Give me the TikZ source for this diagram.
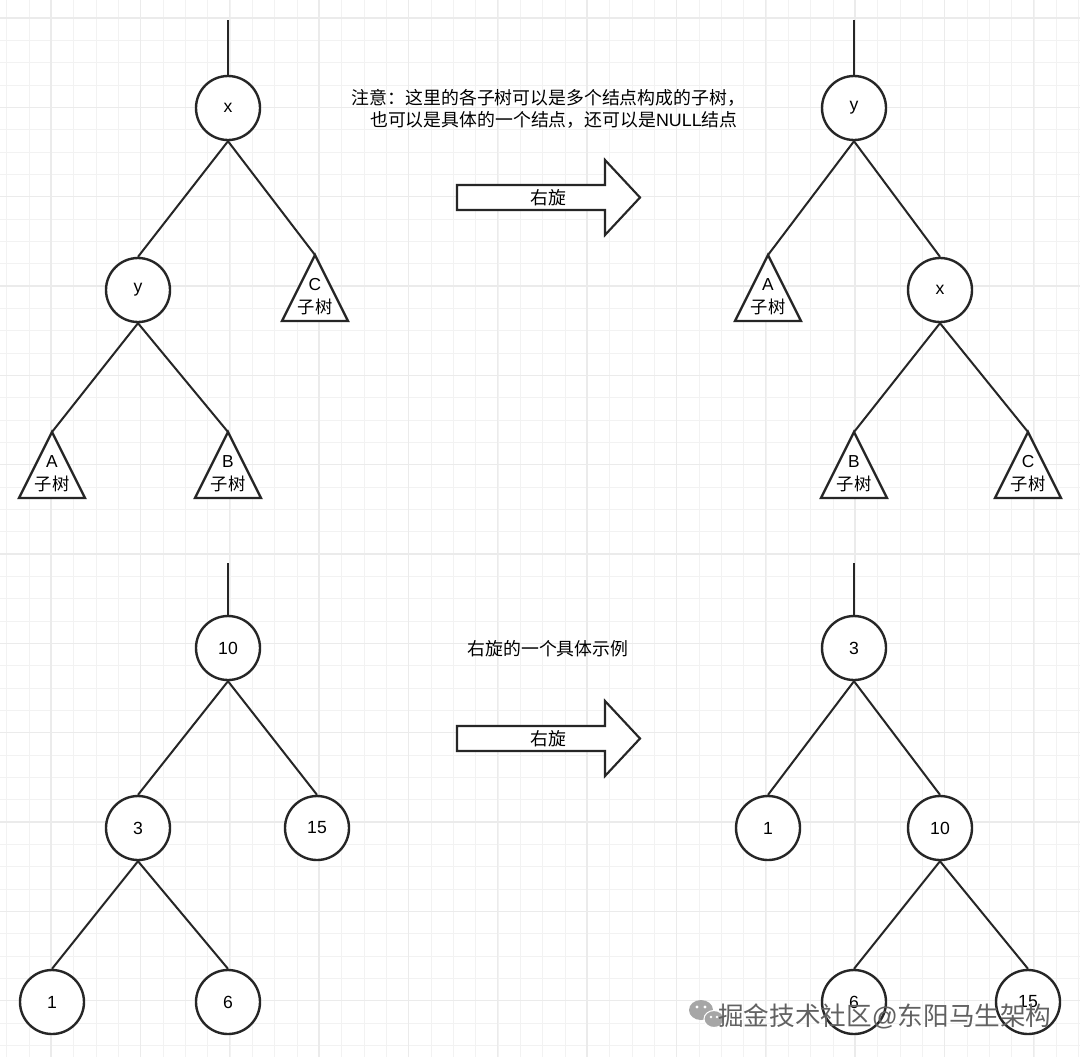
\documentclass[tikz,border=0pt]{standalone}
\usepackage{fontspec}
\setmainfont{Liberation Sans}
\newfontfamily\cjk{Noto Sans CJK SC}
\begin{document}
\begin{tikzpicture}[x=0.75pt,y=-0.75pt,
  gridminor/.style={draw=black!5,line width=0.7pt},
  gridmajor/.style={draw=black!8,line width=0.9pt},
  nd/.style={circle,draw=black!85,fill=white,line width=1.8pt,minimum size=48pt,inner sep=0pt,font=\fontsize{13.2}{15}\selectfont},
  edge/.style={draw=black!85,line width=1.5pt},
  tri/.style={draw=black!85,fill=white,line width=1.8pt,line join=miter},
  lbl/.style={inner sep=0pt,font=\fontsize{13}{15}\selectfont},
  txt/.style={inner sep=0pt,align=center,font=\fontsize{13.4}{17}\selectfont\cjk},
  bigarrow/.style={draw=black!85,fill=white,line width=1.6pt,line join=miter},
  pics/subtree/.style={code={
    \draw[tri] (-33,0) -- (0,-66) coordinate (-apex) -- (33,0) -- cycle;
    \node[lbl] at (0,-36) {#1};
    \node[lbl] at (0,-14) {\cjk 子树};
  }}
]
\useasboundingbox (0,0) rectangle (1080,1057);
\fill[white] (0,0) rectangle (1080,1057);
% grid
\foreach \i in {0,...,48} {
  \draw[gridminor] ({6.7+22.333*\i},0) -- ({6.7+22.333*\i},1057);
  \draw[gridminor] (0,{-4.3+22.333*\i}) -- (1080,{-4.3+22.333*\i});
}
\foreach \k in {0,...,11} {
  \draw[gridmajor] ({51+89.333*\k},0) -- ({51+89.333*\k},1057);
  \draw[gridmajor] (0,{18+89.333*\k}) -- (1080,{18+89.333*\k});
}

% ---------- top-left tree ----------
\coordinate (tlroot) at (228,20);
\node[nd] (x1) at (228,108) {x};
\node[nd] (y1) at (138,290) {y};
\pic (tC1) at (315,321) {subtree=C};
\pic (tA1) at (52,498) {subtree=A};
\pic (tB1) at (228,498) {subtree=B};
\draw[edge] (tlroot) -- (x1.north);
\draw[edge] (x1.south) -- (y1.north);
\draw[edge] (x1.south) -- (tC1-apex);
\draw[edge] (y1.south) -- (tA1-apex);
\draw[edge] (y1.south) -- (tB1-apex);

% ---------- top-right tree ----------
\coordinate (trroot) at (854,20);
\node[nd] (y2) at (854,108) {y};
\node[nd] (x2) at (940,290) {x};
\pic (tA2) at (768,321) {subtree=A};
\pic (tB2) at (854,498) {subtree=B};
\pic (tC2) at (1028,498) {subtree=C};
\draw[edge] (trroot) -- (y2.north);
\draw[edge] (y2.south) -- (tA2-apex);
\draw[edge] (y2.south) -- (x2.north);
\draw[edge] (x2.south) -- (tB2-apex);
\draw[edge] (x2.south) -- (tC2-apex);

% note + arrow 1
\node[txt] (note) at (548.5,109) {注意：这里的各子树可以是多个结点构成的子树，\\[-1pt]\hspace*{0.6em}也可以是具体的一个结点，还可以是{\fontspec{Liberation Sans}NULL}结点};
\draw[bigarrow] (457,185) -- (605,185) -- (605,160) -- (640,197.5) -- (605,235) -- (605,210) -- (457,210) -- cycle;
\node[txt] (rot1) at (548,197.5) {右旋};

% ---------- bottom-left tree ----------
\coordinate (blroot) at (228,563);
\node[nd] (n10a) at (228,648) {10};
\node[nd] (n3a) at (138,828) {3};
\node[nd] (n15a) at (317,828) {15};
\node[nd] (n1a) at (52,1002) {1};
\node[nd] (n6a) at (228,1002) {6};
\draw[edge] (blroot) -- (n10a.north);
\draw[edge] (n10a.south) -- (n3a.north);
\draw[edge] (n10a.south) -- (n15a.north);
\draw[edge] (n3a.south) -- (n1a.north);
\draw[edge] (n3a.south) -- (n6a.north);

% example label + arrow 2
\node[txt] (ex) at (548,649) {右旋的一个具体示例};
\draw[bigarrow] (457,726) -- (605,726) -- (605,701) -- (640,738.5) -- (605,776) -- (605,751) -- (457,751) -- cycle;
\node[txt] (rot2) at (548,738.5) {右旋};

% ---------- bottom-right tree ----------
\coordinate (brroot) at (854,563);
\node[nd] (n3b) at (854,648) {3};
\node[nd] (n1b) at (768,828) {1};
\node[nd] (n10b) at (940,828) {10};
\node[nd] (n6b) at (854,1002) {6};
\node[nd] (n15b) at (1028,1002) {15};
\draw[edge] (brroot) -- (n3b.north);
\draw[edge] (n3b.south) -- (n1b.north);
\draw[edge] (n3b.south) -- (n10b.north);
\draw[edge] (n10b.south) -- (n6b.north);
\draw[edge] (n10b.south) -- (n15b.north);

% watermark
\fill[black!35] (701,1010) ellipse [x radius=12,y radius=10];
\fill[black!35,draw=white,line width=0.8pt] (714,1019) ellipse [x radius=10,y radius=8.5];
\fill[white] (697,1007) circle (1.6) (705,1007) circle (1.6) (711,1017) circle (1.3) (717,1017) circle (1.3);
\node[inner sep=0pt,anchor=west,text=black!62,font=\fontsize{19.2}{22}\selectfont\cjk] (wm) at (718,1016) {掘金技术社区{\fontspec{Liberation Sans}@}东阳马生架构};
\end{tikzpicture}
\end{document}
